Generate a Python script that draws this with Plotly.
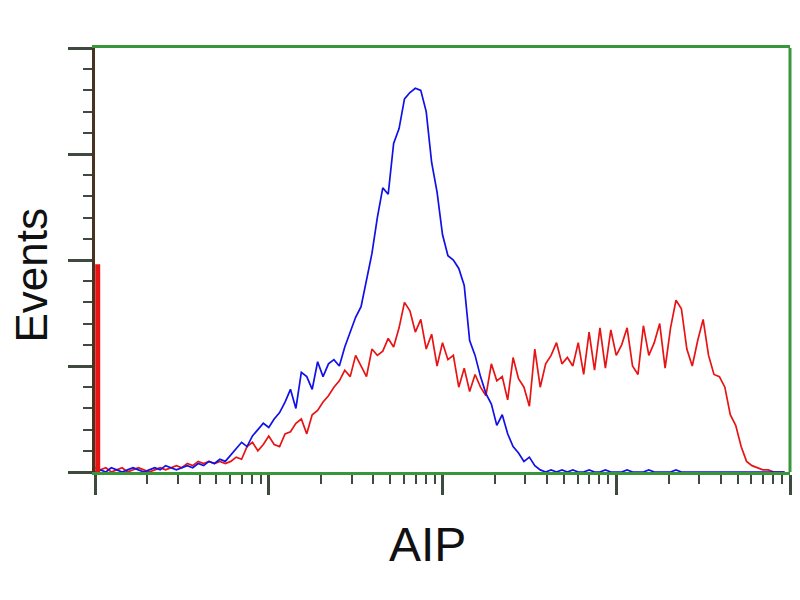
import plotly.graph_objects as go

# Histogram counts in 2-channel bins (256-channel, 4-decade log scale)
blue_counts = [
    0, 1, 0, 2, 1, 0, 1, 2, 1, 0,
    1, 2, 1, 3, 2, 1, 2, 3, 2, 4,
    3, 5, 4, 6, 5, 8, 11, 14, 12, 17,
    20, 23, 21, 25, 28, 33, 39, 30, 47, 45,
    39, 52, 45, 51, 53, 50, 59, 66, 73, 78,
    90, 103, 120, 134, 131, 155, 162, 176, 179, 181,
    180, 170, 146, 132, 112, 102, 100, 96, 88, 62,
    55, 45, 37, 32, 22, 27, 18, 12, 9, 5,
    7, 3, 1, 0, 1, 0, 1, 0, 1, 0,
    0, 1, 0, 0, 1, 0, 0, 0, 1, 0,
    0, 0, 1, 0, 0, 0, 0, 1, 0, 0,
    0, 0, 0, 0, 0, 0, 0, 0, 0, 0,
    0, 0, 0, 0, 0, 0, 0, 0,
]
red_counts = [
    2, 1, 2, 0, 1, 2, 0, 1, 2, 1,
    0, 1, 2, 1, 2, 3, 2, 4, 3, 5,
    4, 5, 4, 5, 4, 5, 7, 6, 12, 14,
    10, 13, 17, 13, 12, 18, 19, 23, 25, 18,
    27, 29, 33, 36, 40, 43, 48, 45, 55, 50,
    45, 58, 55, 57, 63, 59, 68, 80, 76, 66,
    72, 58, 65, 50, 61, 53, 55, 40, 49, 38,
    46, 40, 36, 51, 43, 45, 34, 54, 44, 40,
    31, 58, 40, 51, 55, 61, 51, 54, 50, 61,
    46, 66, 48, 68, 49, 67, 55, 60, 68, 50,
    46, 69, 55, 61, 70, 49, 68, 81, 77, 58,
    50, 62, 72, 55, 46, 45, 40, 27, 22, 12,
    5, 3, 2, 1, 1, 0, 0, 0,
]
red_spike_count = 98
channel_step = 2
channels_per_decade = 64

x_major = [1, 10, 100, 1000, 10000]
x_minor = [m * d for d in [1, 10, 100, 1000] for m in range(2, 10)]

xs = [10 ** (channel_step * i / channels_per_decade) for i in range(len(blue_counts))]

GREEN = "#3a963a"
TICK = "#3d4a3d"

fig = go.Figure()
fig.add_trace(go.Scatter(x=xs, y=red_counts, mode="lines",
                         line=dict(color="#e81414", width=1.7), showlegend=False))
fig.add_trace(go.Scatter(x=xs, y=blue_counts, mode="lines",
                         line=dict(color="#1010e8", width=1.7), showlegend=False))
fig.add_trace(go.Scatter(x=[10 ** (1 / channels_per_decade)] * 2, y=[0, red_spike_count],
                         mode="lines", line=dict(color="#e81414", width=5), showlegend=False))

fig.update_layout(
    width=800, height=600,
    margin=dict(l=87, r=18, t=40, b=136),
    paper_bgcolor="white", plot_bgcolor="white",
    xaxis=dict(type="log", range=[0, 4], showgrid=False, zeroline=False,
               tickmode="array", tickvals=x_major, showticklabels=False,
               ticks="outside", ticklen=20, tickwidth=2.5, tickcolor=TICK,
               minor=dict(tickmode="array", tickvals=x_minor, ticks="outside",
                          ticklen=9, tickwidth=2, tickcolor=TICK, showgrid=False),
               showline=True, linecolor=GREEN, linewidth=3, mirror=True),
    yaxis=dict(range=[0, 200], showgrid=False, zeroline=False,
               tickmode="linear", tick0=0, dtick=50, showticklabels=False,
               ticks="outside", ticklen=24, tickwidth=2.5, tickcolor=TICK,
               minor=dict(dtick=10, ticks="outside", ticklen=9, tickwidth=2,
                          tickcolor=TICK, showgrid=False),
               showline=True, linecolor="#4a3222", linewidth=3),
    shapes=[dict(type="line", xref="paper", yref="paper", x0=1, x1=1, y0=0, y1=1,
                 line=dict(color=GREEN, width=3))],
    annotations=[
        dict(text="Events", xref="paper", yref="paper", x=-0.091, y=0.465,
             showarrow=False, textangle=-90, xanchor="center", yanchor="middle",
             font=dict(family="Liberation Sans, Arial", size=44, color="#111")),
        dict(text="AIP", xref="paper", yref="paper", x=0.479, y=-0.172,
             showarrow=False, xanchor="center", yanchor="middle",
             font=dict(family="Liberation Sans, Arial", size=48, color="#111")),
    ],
)

fig.write_html("out.html")
